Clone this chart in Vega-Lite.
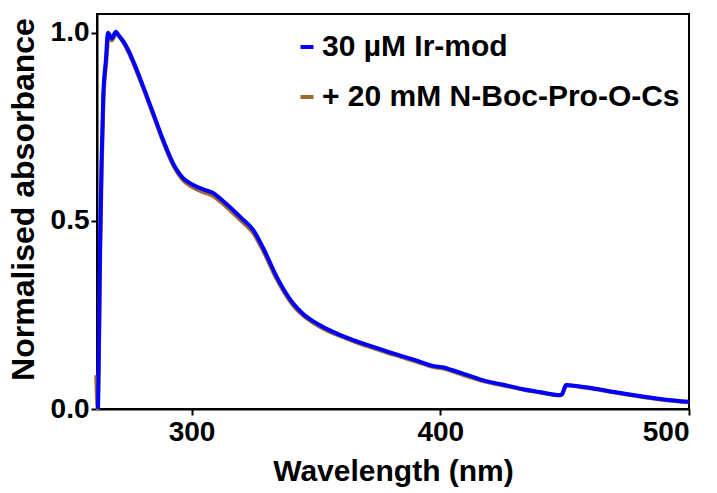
{
  "$schema": "https://vega.github.io/schema/vega-lite/v6.json",
  "width": 592,
  "height": 395,
  "autosize": {"type": "none"},
  "padding": {"left": 97, "top": 14, "right": 28, "bottom": 84},
  "background": "white",
  "config": {
    "view": {"stroke": "black", "strokeWidth": 2},
    "font": "Liberation Sans",
    "axis": {
      "domainColor": "black", "domainWidth": 2, "tickColor": "black", "tickWidth": 2, "tickSize": 6,
      "labelFont": "Liberation Sans", "labelFontWeight": "bold", "labelFontSize": 28, "labelColor": "black",
      "titleFont": "Liberation Sans", "titleFontWeight": "bold", "titleFontSize": 30, "titleColor": "black",
      "grid": false
    }
  },
  "data": {
    "values": [
      {"series": "+ 20 mM N-Boc-Pro-O-Cs", "wl": 261.7, "a": 0.09},
      {"series": "+ 20 mM N-Boc-Pro-O-Cs", "wl": 262.3, "a": 0.0},
      {"series": "+ 20 mM N-Boc-Pro-O-Cs", "wl": 262.9, "a": 0.2},
      {"series": "+ 20 mM N-Boc-Pro-O-Cs", "wl": 263.3, "a": 0.42},
      {"series": "+ 20 mM N-Boc-Pro-O-Cs", "wl": 263.9, "a": 0.64},
      {"series": "+ 20 mM N-Boc-Pro-O-Cs", "wl": 264.6, "a": 0.82},
      {"series": "+ 20 mM N-Boc-Pro-O-Cs", "wl": 265.7, "a": 0.92},
      {"series": "+ 20 mM N-Boc-Pro-O-Cs", "wl": 266.6, "a": 0.985},
      {"series": "+ 20 mM N-Boc-Pro-O-Cs", "wl": 268.0, "a": 0.98},
      {"series": "+ 20 mM N-Boc-Pro-O-Cs", "wl": 269.8, "a": 1.0},
      {"series": "+ 20 mM N-Boc-Pro-O-Cs", "wl": 270.7, "a": 0.993},
      {"series": "+ 20 mM N-Boc-Pro-O-Cs", "wl": 272.8, "a": 0.972},
      {"series": "+ 20 mM N-Boc-Pro-O-Cs", "wl": 274.7, "a": 0.948},
      {"series": "+ 20 mM N-Boc-Pro-O-Cs", "wl": 276.8, "a": 0.916},
      {"series": "+ 20 mM N-Boc-Pro-O-Cs", "wl": 280.8, "a": 0.849},
      {"series": "+ 20 mM N-Boc-Pro-O-Cs", "wl": 284.8, "a": 0.778},
      {"series": "+ 20 mM N-Boc-Pro-O-Cs", "wl": 288.8, "a": 0.707},
      {"series": "+ 20 mM N-Boc-Pro-O-Cs", "wl": 292.8, "a": 0.646},
      {"series": "+ 20 mM N-Boc-Pro-O-Cs", "wl": 296.8, "a": 0.607},
      {"series": "+ 20 mM N-Boc-Pro-O-Cs", "wl": 300.0, "a": 0.591},
      {"series": "+ 20 mM N-Boc-Pro-O-Cs", "wl": 302.0, "a": 0.584},
      {"series": "+ 20 mM N-Boc-Pro-O-Cs", "wl": 305.0, "a": 0.576},
      {"series": "+ 20 mM N-Boc-Pro-O-Cs", "wl": 308.7, "a": 0.566},
      {"series": "+ 20 mM N-Boc-Pro-O-Cs", "wl": 312.0, "a": 0.549},
      {"series": "+ 20 mM N-Boc-Pro-O-Cs", "wl": 316.7, "a": 0.521},
      {"series": "+ 20 mM N-Boc-Pro-O-Cs", "wl": 320.0, "a": 0.5},
      {"series": "+ 20 mM N-Boc-Pro-O-Cs", "wl": 324.8, "a": 0.468},
      {"series": "+ 20 mM N-Boc-Pro-O-Cs", "wl": 328.8, "a": 0.421},
      {"series": "+ 20 mM N-Boc-Pro-O-Cs", "wl": 334.2, "a": 0.346},
      {"series": "+ 20 mM N-Boc-Pro-O-Cs", "wl": 340.8, "a": 0.276},
      {"series": "+ 20 mM N-Boc-Pro-O-Cs", "wl": 345.0, "a": 0.248},
      {"series": "+ 20 mM N-Boc-Pro-O-Cs", "wl": 350.2, "a": 0.224},
      {"series": "+ 20 mM N-Boc-Pro-O-Cs", "wl": 355.0, "a": 0.207},
      {"series": "+ 20 mM N-Boc-Pro-O-Cs", "wl": 359.6, "a": 0.194},
      {"series": "+ 20 mM N-Boc-Pro-O-Cs", "wl": 367.6, "a": 0.174},
      {"series": "+ 20 mM N-Boc-Pro-O-Cs", "wl": 375.0, "a": 0.158},
      {"series": "+ 20 mM N-Boc-Pro-O-Cs", "wl": 381.0, "a": 0.145},
      {"series": "+ 20 mM N-Boc-Pro-O-Cs", "wl": 390.0, "a": 0.127},
      {"series": "+ 20 mM N-Boc-Pro-O-Cs", "wl": 398.4, "a": 0.11},
      {"series": "+ 20 mM N-Boc-Pro-O-Cs", "wl": 400.0, "a": 0.109},
      {"series": "+ 20 mM N-Boc-Pro-O-Cs", "wl": 401.0, "a": 0.108},
      {"series": "+ 20 mM N-Boc-Pro-O-Cs", "wl": 405.0, "a": 0.1},
      {"series": "+ 20 mM N-Boc-Pro-O-Cs", "wl": 410.0, "a": 0.089},
      {"series": "+ 20 mM N-Boc-Pro-O-Cs", "wl": 418.5, "a": 0.072},
      {"series": "+ 20 mM N-Boc-Pro-O-Cs", "wl": 425.0, "a": 0.063},
      {"series": "+ 20 mM N-Boc-Pro-O-Cs", "wl": 434.5, "a": 0.05},
      {"series": "+ 20 mM N-Boc-Pro-O-Cs", "wl": 440.0, "a": 0.044},
      {"series": "+ 20 mM N-Boc-Pro-O-Cs", "wl": 448.0, "a": 0.036},
      {"series": "+ 20 mM N-Boc-Pro-O-Cs", "wl": 449.0, "a": 0.039},
      {"series": "+ 20 mM N-Boc-Pro-O-Cs", "wl": 450.6, "a": 0.063},
      {"series": "+ 20 mM N-Boc-Pro-O-Cs", "wl": 455.0, "a": 0.06},
      {"series": "+ 20 mM N-Boc-Pro-O-Cs", "wl": 461.3, "a": 0.054},
      {"series": "+ 20 mM N-Boc-Pro-O-Cs", "wl": 470.0, "a": 0.044},
      {"series": "+ 20 mM N-Boc-Pro-O-Cs", "wl": 481.4, "a": 0.032},
      {"series": "+ 20 mM N-Boc-Pro-O-Cs", "wl": 490.0, "a": 0.024},
      {"series": "+ 20 mM N-Boc-Pro-O-Cs", "wl": 500.0, "a": 0.018},

      {"series": "30 µM Ir-mod", "wl": 262.4, "a": 0.0},
      {"series": "30 µM Ir-mod", "wl": 262.8, "a": 0.2},
      {"series": "30 µM Ir-mod", "wl": 263.2, "a": 0.42},
      {"series": "30 µM Ir-mod", "wl": 263.8, "a": 0.65},
      {"series": "30 µM Ir-mod", "wl": 264.5, "a": 0.83},
      {"series": "30 µM Ir-mod", "wl": 265.6, "a": 0.93},
      {"series": "30 µM Ir-mod", "wl": 266.4, "a": 1.0},
      {"series": "30 µM Ir-mod", "wl": 267.9, "a": 0.985},
      {"series": "30 µM Ir-mod", "wl": 269.6, "a": 1.003},
      {"series": "30 µM Ir-mod", "wl": 270.5, "a": 0.995},
      {"series": "30 µM Ir-mod", "wl": 272.6, "a": 0.977},
      {"series": "30 µM Ir-mod", "wl": 274.5, "a": 0.955},
      {"series": "30 µM Ir-mod", "wl": 276.6, "a": 0.924},
      {"series": "30 µM Ir-mod", "wl": 280.6, "a": 0.857},
      {"series": "30 µM Ir-mod", "wl": 284.6, "a": 0.786},
      {"series": "30 µM Ir-mod", "wl": 288.6, "a": 0.715},
      {"series": "30 µM Ir-mod", "wl": 292.6, "a": 0.653},
      {"series": "30 µM Ir-mod", "wl": 296.6, "a": 0.614},
      {"series": "30 µM Ir-mod", "wl": 300.0, "a": 0.598},
      {"series": "30 µM Ir-mod", "wl": 302.0, "a": 0.591},
      {"series": "30 µM Ir-mod", "wl": 305.0, "a": 0.583},
      {"series": "30 µM Ir-mod", "wl": 308.7, "a": 0.574},
      {"series": "30 µM Ir-mod", "wl": 312.0, "a": 0.557},
      {"series": "30 µM Ir-mod", "wl": 316.7, "a": 0.529},
      {"series": "30 µM Ir-mod", "wl": 320.0, "a": 0.508},
      {"series": "30 µM Ir-mod", "wl": 324.8, "a": 0.476},
      {"series": "30 µM Ir-mod", "wl": 328.8, "a": 0.428},
      {"series": "30 µM Ir-mod", "wl": 334.2, "a": 0.352},
      {"series": "30 µM Ir-mod", "wl": 340.8, "a": 0.281},
      {"series": "30 µM Ir-mod", "wl": 345.0, "a": 0.252},
      {"series": "30 µM Ir-mod", "wl": 350.2, "a": 0.228},
      {"series": "30 µM Ir-mod", "wl": 355.0, "a": 0.211},
      {"series": "30 µM Ir-mod", "wl": 359.6, "a": 0.197},
      {"series": "30 µM Ir-mod", "wl": 367.6, "a": 0.177},
      {"series": "30 µM Ir-mod", "wl": 375.0, "a": 0.161},
      {"series": "30 µM Ir-mod", "wl": 381.0, "a": 0.148},
      {"series": "30 µM Ir-mod", "wl": 390.0, "a": 0.13},
      {"series": "30 µM Ir-mod", "wl": 398.4, "a": 0.113},
      {"series": "30 µM Ir-mod", "wl": 400.0, "a": 0.112},
      {"series": "30 µM Ir-mod", "wl": 401.0, "a": 0.111},
      {"series": "30 µM Ir-mod", "wl": 405.0, "a": 0.103},
      {"series": "30 µM Ir-mod", "wl": 410.0, "a": 0.092},
      {"series": "30 µM Ir-mod", "wl": 418.5, "a": 0.074},
      {"series": "30 µM Ir-mod", "wl": 425.0, "a": 0.065},
      {"series": "30 µM Ir-mod", "wl": 434.5, "a": 0.051},
      {"series": "30 µM Ir-mod", "wl": 440.0, "a": 0.045},
      {"series": "30 µM Ir-mod", "wl": 448.0, "a": 0.037},
      {"series": "30 µM Ir-mod", "wl": 449.0, "a": 0.04},
      {"series": "30 µM Ir-mod", "wl": 450.6, "a": 0.064},
      {"series": "30 µM Ir-mod", "wl": 455.0, "a": 0.061},
      {"series": "30 µM Ir-mod", "wl": 461.3, "a": 0.055},
      {"series": "30 µM Ir-mod", "wl": 470.0, "a": 0.045},
      {"series": "30 µM Ir-mod", "wl": 481.4, "a": 0.033},
      {"series": "30 µM Ir-mod", "wl": 490.0, "a": 0.025},
      {"series": "30 µM Ir-mod", "wl": 500.0, "a": 0.019}
    ]
  },
  "mark": {"type": "line", "strokeWidth": 4, "clip": false, "strokeJoin": "round", "interpolate": "monotone"},
  "encoding": {
    "x": {
      "field": "wl", "type": "quantitative",
      "scale": {"domain": [262, 500], "nice": false, "zero": false},
      "axis": {"values": [300, 400, 500], "title": "Wavelength (nm)", "labelPadding": 3, "titlePadding": 10}
    },
    "y": {
      "field": "a", "type": "quantitative",
      "scale": {"domain": [0, 1.05], "nice": false},
      "axis": {"values": [0, 0.5, 1.0], "format": ".1f", "title": "Normalised absorbance", "labelPadding": 2, "titlePadding": 10, "titleFontSize": 32, "titleY": 185}
    },
    "color": {
      "field": "series", "type": "nominal",
      "scale": {"domain": ["30 µM Ir-mod", "+ 20 mM N-Boc-Pro-O-Cs"], "range": ["#0000FF", "#9E6B2E"]},
      "legend": {
        "title": null, "orient": "none", "legendX": 195, "legendY": 18,
        "symbolType": "stroke", "symbolSize": 169, "symbolStrokeWidth": 4,
        "labelFont": "Liberation Sans", "labelFontWeight": "bold", "labelFontSize": 30, "labelColor": "black",
        "labelOffset": 0, "rowPadding": 20, "padding": 0, "labelLimit": 500
      }
    },
    "order": {"field": "series", "sort": "ascending"},
    "detail": {"field": "series"}
  }
}
